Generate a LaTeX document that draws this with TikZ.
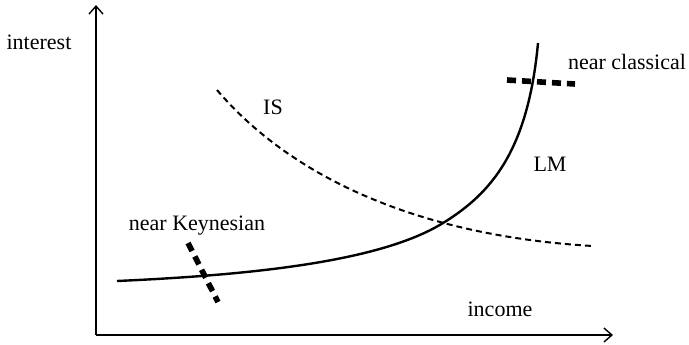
\documentclass[tikz,border=0pt]{standalone}
\usepackage{fontspec}
\setmainfont{Liberation Serif}
\usetikzlibrary{arrows.meta, positioning}

\begin{document}
\begin{tikzpicture}[
			x=0.5pt, y=-0.5pt,
			axis/.style={-{Straight Barb[length=4pt, width=7pt]}, line width=0.7pt},
			lmcurve/.style={line width=1.2pt},
			iscurve/.style={line width=1pt, dash pattern=on 3pt off 2pt},
			regime/.style={line width=2.8pt, dash pattern=on 4.5pt off 3pt},
			label/.style={inner sep=0pt, font=\fontsize{11}{13}\selectfont}
		]
		\useasboundingbox (0,0) rectangle (689,344);
		\coordinate (origin) at (96,335);
		\coordinate (ytop) at (96,5);
		\coordinate (xend) at (613,335);
		
		\draw[axis] (origin) -- (ytop);
		\draw[axis] (origin) -- (xend);
		
		% curves
		\coordinate (isstart) at (217,90);
		\coordinate (isend) at (593,246);
		\coordinate (lmstart) at (117,281);
		\coordinate (lmend) at (538,43);
		\coordinate (cross) at (443,223);
		\draw[iscurve] (isstart) .. controls (292,178) and (420,236) .. (isend);
		\draw[lmcurve] (lmstart) .. controls (250,275) and (380,262) .. (cross)
			.. controls (492,193) and (528,150) .. (lmend);
		
		% regimes
		\draw[regime] (507,80) -- (575,84);
		\draw[regime] (188,243) -- (218,302);
		
		\node[label] (interestlbl) at (39,42) {interest};
		\node[label] (incomelbl) at (500,309) {income};
		\node[label] (islbl) at (273,107) {IS};
		\node[label] (lmlbl) at (550,164) {LM};
		\node[label] (classicallbl) at (627,62) {near classical};
		\node[label] (keynesianlbl) at (197,226) {near Keynesian};
		\end{tikzpicture}
\end{document}
